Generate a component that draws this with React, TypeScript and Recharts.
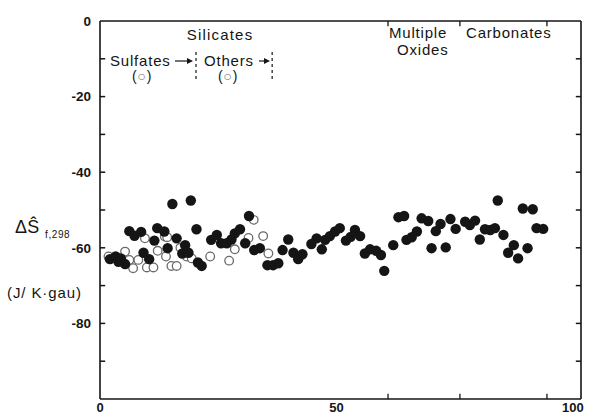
import React from 'react';
import { ScatterChart, Scatter, XAxis, YAxis, ReferenceLine } from 'recharts';

// Filled circles (silicates, multiple oxides, carbonates)
const filledX = [2.1, 3.3, 3.9, 4.4, 5.3, 6.2, 7.3, 8.7, 9.2, 10.4, 11.5, 12.1, 13.6, 14.3, 15.3, 16.2, 17.4, 18.0, 18.7, 19.2, 20.4, 20.7, 21.5, 23.5, 24.7, 25.6, 26.8, 27.8, 28.5, 29.6, 30.7, 31.5, 32.6, 33.8, 35.4, 36.6, 37.7, 38.6, 39.8, 40.9, 41.9, 42.8, 44.7, 45.8, 46.9, 47.6, 48.6, 49.7, 50.7, 52.0, 53.0, 53.9, 55.0, 56.0, 57.1, 58.4, 59.4, 60.1, 62.0, 63.1, 64.3, 64.8, 65.9, 67.0, 68.0, 69.4, 70.1, 71.0, 72.0, 73.1, 74.1, 75.2, 77.2, 78.2, 79.3, 80.3, 81.4, 82.5, 83.5, 84.1, 85.3, 86.3, 87.5, 88.4, 89.4, 90.4, 91.5, 92.3, 93.7];
const filledY = [-63.0, -62.3, -63.7, -62.8, -64.3, -55.6, -56.8, -55.8, -61.3, -63.0, -58.1, -54.8, -55.7, -60.1, -48.4, -57.5, -61.5, -59.3, -61.3, -47.5, -55.1, -63.9, -64.8, -57.9, -56.6, -58.8, -58.8, -57.8, -56.2, -55.1, -58.8, -51.6, -60.6, -60.1, -64.6, -64.6, -64.1, -60.6, -57.8, -61.3, -63.0, -61.7, -59.0, -57.5, -60.4, -57.9, -56.9, -55.7, -54.8, -58.1, -57.1, -55.3, -56.9, -61.5, -60.4, -60.8, -61.9, -66.1, -59.3, -51.9, -51.6, -57.9, -57.2, -55.7, -52.2, -52.9, -60.1, -55.6, -53.7, -59.9, -52.4, -55.0, -53.1, -54.0, -52.8, -57.8, -55.1, -55.3, -54.8, -47.5, -56.6, -61.3, -59.3, -62.8, -49.6, -60.1, -49.8, -54.8, -55.0];

// Open circles (sulfates and other silicates)
const openX = [1.8, 5.3, 6.2, 7.0, 8.1, 9.5, 9.9, 11.3, 12.2, 13.7, 13.95, 14.2, 15.1, 16.2, 17.0, 18.3, 19.4, 23.3, 27.3, 28.5, 31.4, 32.5, 34.5, 35.6];
const openY = [-62.3, -61.0, -63.2, -65.4, -63.2, -57.5, -65.2, -65.2, -60.8, -57.0, -62.3, -57.2, -64.8, -64.8, -60.0, -62.3, -62.8, -62.3, -63.4, -60.4, -57.4, -52.6, -56.9, -61.5];

const xTicks = [0, 50, 100];
const yTicks = [0, -10, -20, -30, -40, -50, -60, -70, -80, -90, -100];
const yLabeled = [0, -20, -40, -60, -80];
const groupBoundaries = [60.9, 76.1, 94.5];
const phaseDividers = [20.3, 36.4];
const X_MAX = 101.7;
const TICK_LEN = 1.1; // inner tick length in x-data units (~5px)

const filled = filledX.map((x, i) => ({ x, y: filledY[i] }));
const open = openX.map((x, i) => ({ x, y: openY[i] }));

const FONT = '"Liberation Sans", Arial, Helvetica, sans-serif';
const INK = '#151515';

const FilledDot = (p: any) => <circle cx={p.cx} cy={p.cy} r={5.2} fill={INK} />;
const OpenDot = (p: any) => (
  <circle cx={p.cx} cy={p.cy} r={4.3} fill="#fff" stroke="#6a6a6a" strokeWidth={1.3} />
);

const innerTicks = yTicks.filter((v) => v !== 0 && v !== -100);

export default function App() {
  return (
    <div style={{ position: 'absolute', left: 0, top: 0, width: 593, height: 414, background: '#fff' }}>
      <ScatterChart width={593} height={414} margin={{ top: 21, right: 12, left: 0, bottom: 0 }}>
        <XAxis
          type="number"
          dataKey="x"
          domain={[0, X_MAX]}
          ticks={xTicks}
          interval={0}
          height={15}
          tickLine={false}
          tickSize={0}
          tickMargin={4}
          axisLine={{ stroke: INK, strokeWidth: 1.6 }}
          tick={{ fill: INK, fontSize: 13, fontWeight: 'bold', fontFamily: FONT }}
          allowDataOverflow
        />
        <YAxis
          type="number"
          dataKey="y"
          domain={[-100, 0]}
          ticks={yTicks}
          interval={0}
          width={100}
          tickLine={false}
          tickSize={0}
          tickMargin={9}
          tickFormatter={(v: number) => (yLabeled.includes(v) ? String(v) : '')}
          axisLine={{ stroke: INK, strokeWidth: 1.6 }}
          tick={{ fill: INK, fontSize: 13.5, fontWeight: 'bold', fontFamily: FONT }}
          allowDataOverflow
        />
        <ReferenceLine y={0} stroke={INK} strokeWidth={1.6} />
        <ReferenceLine x={X_MAX} stroke={INK} strokeWidth={1.6} ifOverflow="extendDomain" />
        {innerTicks.map((v) => (
          <ReferenceLine
            key={'l' + v}
            ifOverflow="visible"
            segment={[{ x: 0, y: v }, { x: TICK_LEN, y: v }]}
            stroke={INK}
            strokeWidth={1.5}
          />
        ))}
        {innerTicks.map((v) => (
          <ReferenceLine
            key={'r' + v}
            ifOverflow="visible"
            segment={[{ x: X_MAX - TICK_LEN, y: v }, { x: X_MAX, y: v }]}
            stroke={INK}
            strokeWidth={1.5}
          />
        ))}
        {groupBoundaries.map((b) => (
          <ReferenceLine key={'t' + b} segment={[{ x: b, y: 0 }, { x: b, y: -1.4 }]} stroke={INK} strokeWidth={1.3} />
        ))}
        {groupBoundaries.map((b) => (
          <ReferenceLine key={'b' + b} segment={[{ x: b, y: -100 }, { x: b, y: -98.6 }]} stroke={INK} strokeWidth={1.3} />
        ))}
        {phaseDividers.map((d) => (
          <ReferenceLine key={'d' + d} segment={[{ x: d, y: -8.2 }, { x: d, y: -16 }]} stroke={INK} strokeWidth={1.2} strokeDasharray="3 3" />
        ))}
        <Scatter data={open} shape={OpenDot} isAnimationActive={false} />
        <Scatter data={filled} shape={FilledDot} isAnimationActive={false} />
      </ScatterChart>
      <svg
        width={593}
        height={414}
        style={{ position: 'absolute', left: 0, top: 0, pointerEvents: 'none' }}
        fontFamily={FONT}
      >
        <g fill={INK} fontSize={15} letterSpacing={0.8}>
          <text x={220} y={40} textAnchor="middle" letterSpacing={1.2}>Silicates</text>
          <text x={110} y={66}>Sulfates</text>
          <text x={204} y={66}>Others</text>
          <text x={389} y={38}>Multiple</text>
          <text x={397} y={55}>Oxides</text>
          <text x={466} y={38}>Carbonates</text>
          <text x={142} y={81} textAnchor="middle" fontSize={14}>
            (<tspan fill="#777">○</tspan>)
          </text>
          <text x={228} y={81} textAnchor="middle" fontSize={14}>
            (<tspan fill="#777">○</tspan>)
          </text>
          <text x={15} y={233} fontSize={18} letterSpacing={0.3}>ΔŜ</text>
          <text x={45} y={238} fontSize={10} letterSpacing={0.6}>f,298</text>
          <text x={7} y={298} fontSize={15} letterSpacing={0.9}>(J/ K·gau)</text>
        </g>
        <g stroke={INK} strokeWidth={1.2} fill={INK}>
          <line x1={175} y1={61} x2={190} y2={61} />
          <polygon points="193,61 187,58 187,64" stroke="none" />
          <line x1={259} y1={61} x2={267} y2={61} />
          <polygon points="270,61 264,58 264,64" stroke="none" />
        </g>
      </svg>
    </div>
  );
}
